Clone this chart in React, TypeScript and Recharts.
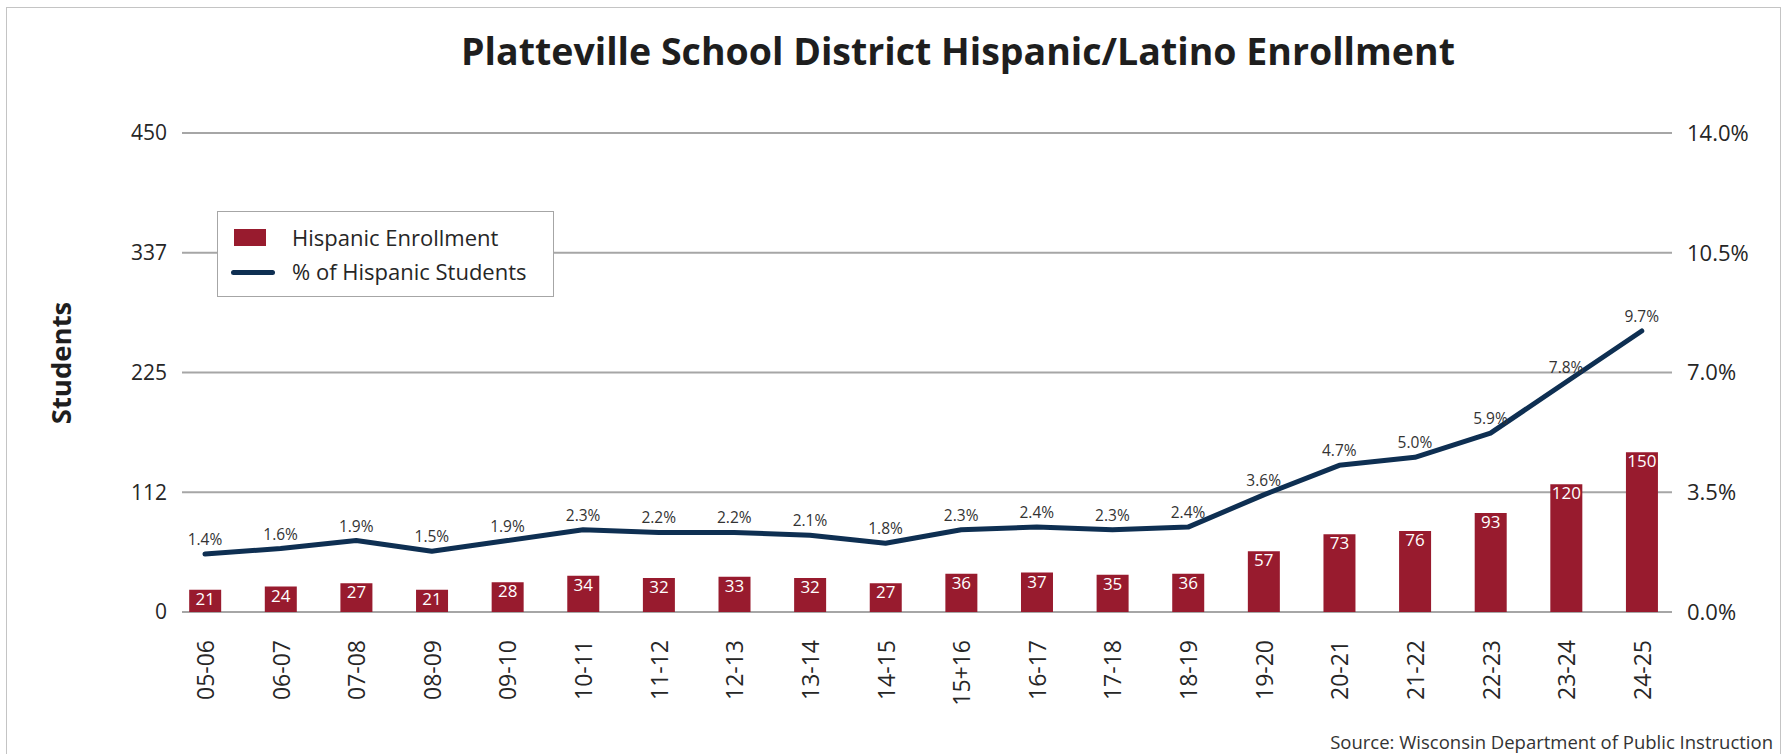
import { Bar, CartesianGrid, ComposedChart, LabelList, Line, XAxis, YAxis } from 'recharts';

const W = 1787;
const H = 754;

const FONT = '"Open Sans", Lato, sans-serif';
const TEXT = '#262626';
const BAR_RED = '#981b2e';
const LINE_NAVY = '#0e2f52';
const GRID = '#a6a6a6';

const schoolYears = [
  '05-06', '06-07', '07-08', '08-09', '09-10', '10-11', '11-12', '12-13', '13-14', '14-15',
  '15+16', '16-17', '17-18', '18-19', '19-20', '20-21', '21-22', '22-23', '23-24', '24-25',
];
const hispanicEnrollment = [21, 24, 27, 21, 28, 34, 32, 33, 32, 27, 36, 37, 35, 36, 57, 73, 76, 93, 120, 150];
const hispanicPct = [1.4, 1.6, 1.9, 1.5, 1.9, 2.3, 2.2, 2.2, 2.1, 1.8, 2.3, 2.4, 2.3, 2.4, 3.6, 4.7, 5.0, 5.9, 7.8, 9.7];

const studentTicks = [0, 112.5, 225, 337.5, 450];
const pctTicks = [0, 3.5, 7, 10.5, 14];

const rows = schoolYears.map((name, i) => ({
  idx: i,
  name,
  enrollment: hispanicEnrollment[i],
  pct: hispanicPct[i],
}));

function YearTick(props: any) {
  const { x, y, payload } = props;
  return (
    <text
      x={x}
      y={y}
      transform={`rotate(-90 ${x} ${y})`}
      textAnchor="end"
      dominantBaseline="central"
      fontSize={23}
      fontFamily={FONT}
      fill={TEXT}
    >
      {schoolYears[payload.value]}
    </text>
  );
}

export default function App() {
  return (
    <div
      style={{
        position: 'absolute',
        left: 0,
        top: 0,
        width: W,
        height: H,
        background: '#fff',
        overflow: 'hidden',
        fontFamily: FONT,
        color: TEXT,
      }}
    >
      {/* outer frame */}
      <div
        style={{
          position: 'absolute',
          left: 6,
          top: 7,
          width: 1775,
          height: 780,
          border: '1.5px solid #c4c4c4',
          boxSizing: 'border-box',
        }}
      />

      <div
        style={{
          position: 'absolute',
          left: 0,
          top: 28,
          width: 1916,
          textAlign: 'center',
          fontSize: 37.5,
          fontWeight: 700,
          lineHeight: '46px',
          color: '#1e1e1e',
        }}
      >
        Platteville School District Hispanic/Latino Enrollment
      </div>

      <ComposedChart
        width={W}
        height={H}
        data={rows}
        margin={{ top: 133, right: 0, bottom: 42, left: 0 }}
        style={{ position: 'absolute', left: 0, top: 0 }}
      >
        <CartesianGrid yAxisId="students" xAxisId="yr" vertical={false} stroke={GRID} strokeWidth={2} ticks={studentTicks} />
        <XAxis
          xAxisId="yr"
          dataKey="idx"
          type="number"
          domain={[-0.304, 19.4]}
          ticks={schoolYears.map((_, i) => i)}
          interval={0}
          height={100}
          axisLine={false}
          tickLine={false}
          tickSize={0}
          tickMargin={28}
          tick={<YearTick />}
        />
        <YAxis
          yAxisId="students"
          domain={[0, 450]}
          ticks={studentTicks}
          tickFormatter={(v: number) => String(Math.floor(v))}
          width={182}
          axisLine={false}
          tickLine={false}
          tickSize={0}
          tickMargin={15}
          tick={{ fontSize: 21, fill: TEXT, fontFamily: FONT }}
        />
        <YAxis
          yAxisId="pctAxis"
          orientation="right"
          type="number"
          domain={[0, 14]}
          ticks={pctTicks}
          allowDataOverflow
          tickFormatter={(v: number) => `${v.toFixed(1)}%`}
          width={115}
          axisLine={false}
          tickLine={false}
          tickSize={0}
          tickMargin={15}
          tick={{ fontSize: 22, fill: TEXT, fontFamily: FONT }}
        />
        <YAxis yAxisId="pctLine" orientation="right" hide domain={[-0.76, 17.07]} allowDataOverflow />
        <Bar
          xAxisId="yr"
          yAxisId="students"
          dataKey="enrollment"
          fill={BAR_RED}
          barSize={32}
          isAnimationActive={false}
        >
          <LabelList
            dataKey="enrollment"
            position="insideTop"
            offset={3}
            fill="#ffffff"
            fontSize={17}
            fontFamily={FONT}
          />
        </Bar>
        <Line
          xAxisId="yr"
          yAxisId="pctLine"
          dataKey="pct"
          stroke={LINE_NAVY}
          strokeWidth={5}
          strokeLinecap="round"
          strokeLinejoin="round"
          dot={false}
          activeDot={false}
          isAnimationActive={false}
        >
          <LabelList
            dataKey="pct"
            position="top"
            offset={9}
            fill="#333333"
            fontSize={15.5}
            fontFamily={FONT}
            formatter={(v: any) => `${Number(v).toFixed(1)}%`}
          />
        </Line>
      </ComposedChart>

      {/* y axis title */}
      <div
        style={{
          position: 'absolute',
          left: 60,
          top: 363,
          transform: 'translate(-50%, -50%) rotate(-90deg)',
          fontSize: 27.5,
          fontWeight: 700,
          whiteSpace: 'nowrap',
          color: '#1e1e1e',
        }}
      >
        Students
      </div>

      {/* legend */}
      <div
        style={{
          position: 'absolute',
          left: 217,
          top: 211,
          width: 337,
          height: 86,
          border: '1.5px solid #a6a6a6',
          boxSizing: 'border-box',
          background: '#fff',
          fontSize: 22,
        }}
      >
        <div style={{ position: 'absolute', left: 16, top: 17, width: 32, height: 17, background: BAR_RED }} />
        <div style={{ position: 'absolute', left: 74, top: 11, lineHeight: '28px', whiteSpace: 'nowrap' }}>
          Hispanic Enrollment
        </div>
        <div
          style={{
            position: 'absolute',
            left: 13,
            top: 58,
            width: 44,
            height: 5,
            borderRadius: 3,
            background: LINE_NAVY,
          }}
        />
        <div style={{ position: 'absolute', left: 74, top: 45, lineHeight: '28px', whiteSpace: 'nowrap' }}>
          % of Hispanic Students
        </div>
      </div>

      <div
        style={{
          position: 'absolute',
          right: 14,
          top: 730,
          fontSize: 18.5,
          lineHeight: '24px',
          whiteSpace: 'nowrap',
          color: '#333',
        }}
      >
        Source: Wisconsin Department of Public Instruction
      </div>
    </div>
  );
}
